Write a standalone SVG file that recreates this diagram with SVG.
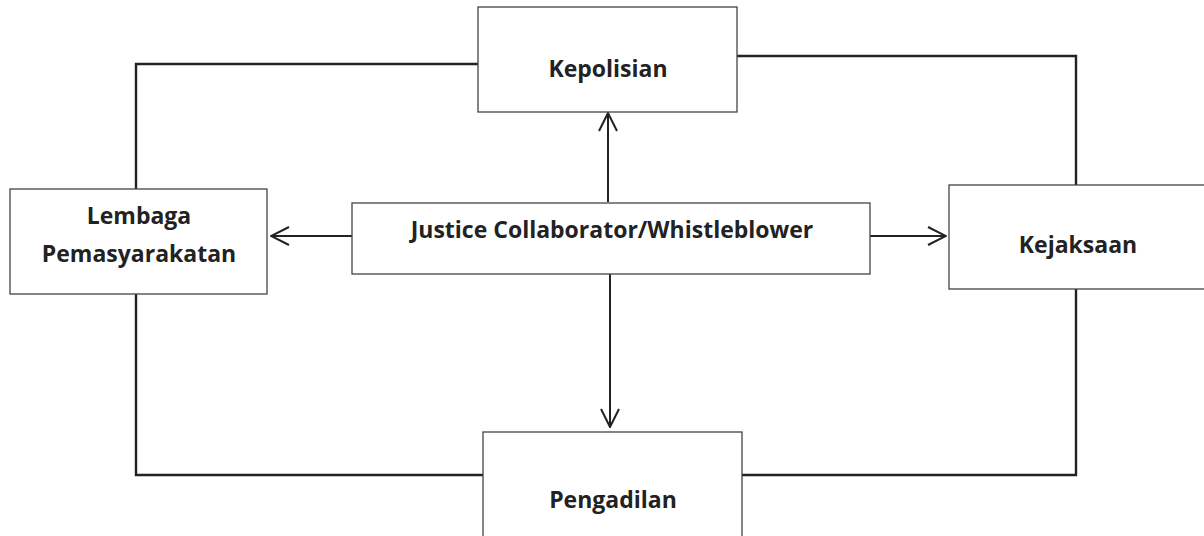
<svg xmlns="http://www.w3.org/2000/svg" width="1204" height="536" viewBox="0 0 1204 536">
<style>
.box{fill:#fff;stroke:#444;stroke-width:1.3}
.lbl{font-family:"Open Sans","Liberation Sans",sans-serif;font-weight:bold;font-size:23px;fill:#222;text-anchor:middle}
.ln{fill:none;stroke:#222;stroke-width:2.4}
.ar{fill:none;stroke:#222;stroke-width:2}
</style>
<defs>
<marker id="ah" viewBox="0 0 20 20" refX="19" refY="10" markerWidth="20" markerHeight="20" markerUnits="userSpaceOnUse" orient="auto">
<path d="M1 1 L19 10 L1 19" fill="none" stroke="#222" stroke-width="2"/>
</marker>
</defs>
<g id="connectors">
<polyline class="ln" points="478,64 136,64 136,189"/>
<polyline class="ln" points="737,56 1076,56 1076,185"/>
<polyline class="ln" points="136,294 136,475 483,475"/>
<polyline class="ln" points="1076,289 1076,475 742,475"/>
<line class="ar" x1="608" y1="202" x2="608" y2="113" marker-end="url(#ah)"/>
<line class="ar" x1="610" y1="274" x2="610" y2="427" marker-end="url(#ah)"/>
<line class="ar" x1="352" y1="236" x2="271" y2="236" marker-end="url(#ah)"/>
<line class="ar" x1="870" y1="236" x2="946" y2="236" marker-end="url(#ah)"/>
</g>
<g id="kepolisian">
<rect class="box" x="478" y="7" width="259" height="105"/>
<text class="lbl" x="608" y="77">Kepolisian</text>
</g>
<g id="justice">
<rect class="box" x="352" y="203" width="518" height="71"/>
<text class="lbl" x="612" y="238">Justice Collaborator/Whistleblower</text>
</g>
<g id="lembaga">
<rect class="box" x="10" y="189" width="257" height="105"/>
<text class="lbl" x="139" y="224">Lembaga</text>
<text class="lbl" x="139" y="262">Pemasyarakatan</text>
</g>
<g id="kejaksaan">
<rect class="box" x="949" y="185" width="260" height="104"/>
<text class="lbl" x="1078" y="253">Kejaksaan</text>
</g>
<g id="pengadilan">
<rect class="box" x="483" y="432" width="259" height="110"/>
<text class="lbl" x="613" y="508">Pengadilan</text>
</g>
</svg>
